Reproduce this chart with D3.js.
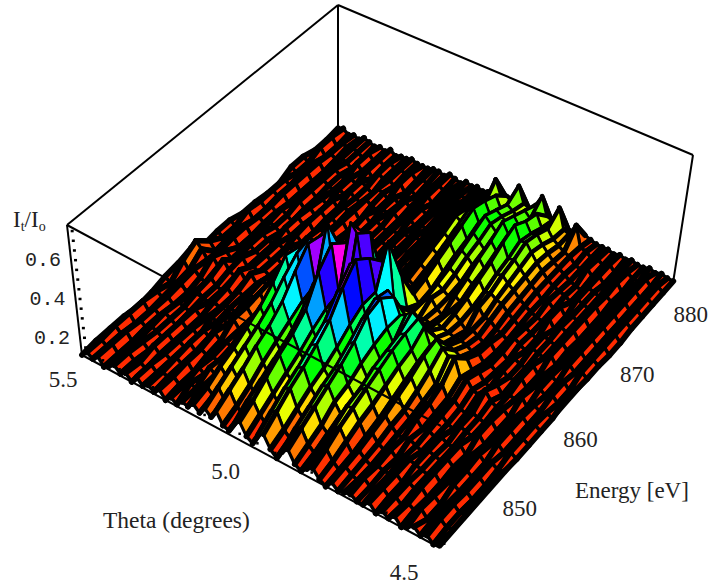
<!DOCTYPE html>
<html>
<head>
<meta charset="utf-8">
<script src="https://d3js.org/d3.v7.min.js"></script>
<style>
html, body { margin: 0; padding: 0; background: #fff; }
svg { display: block; }
text { font-family: "Liberation Serif", serif; font-size: 23px; fill: #222; }
.zlabel { font-family: "Liberation Mono", monospace; font-size: 20px; }
</style>
</head>
<body>
<div id="drawarea"></div>
<script>
const energyValues = [842, 844, 846, 848, 850, 852, 854, 856, 858, 860, 862, 864, 866, 868, 870, 872, 874, 876, 878, 880, 882];
const thetaTicks = [5.5, 5.0, 4.5];
const energyTicks = [850, 860, 870, 880];
const zTicks = [0.2, 0.4, 0.6];

// I_t/I_o in hundredths, one row per energy, theta going from 5.5 down to 4.5
const intensity = [
[11,14,12,15,11,13,15,12,14,11, 15,12,14,12,15,11,14,12,15,14, 17,14,18,15,20,14,13,18,21,15, 13,19,21,15,12,17,20,14,12,15, 17,13,11,15,12,13,14,12,12,15, 11,14,12,15,11,13,15,12,14,11, 13],
[12,14,12,15,11,14,15,12,13,11, 15,12,14,13,15,12,14,16,15,17, 19,16,22,17,24,17,15,23,25,19, 16,24,26,18,15,22,24,17,14,18, 20,15,12,16,13,12,15,12,13,15, 12,14,11,14,12,15,11,13,15,12, 13],
[12,15,12,15,11,13,14,11,15,12, 14,12,15,13,16,12,16,14,19,17, 23,19,26,21,28,21,18,27,30,23, 19,29,31,22,18,26,28,20,17,22, 24,18,13,17,14,12,14,13,13,15, 12,14,12,15,11,14,11,13,15,12, 13],
[12,15,11,14,12,14,13,11,15,12, 14,12,16,13,16,14,15,14,18,17, 26,22,30,24,33,26,21,31,35,27, 24,33,35,26,22,30,32,25,20,26, 27,21,15,19,15,13,15,12,14,15, 14,13,12,15,11,13,14,12,14,11, 13],
[11,15,11,14,12,15,13,11,15,12, 14,11,16,14,18,15,16,15,20,18, 30,25,34,27,37,30,25,35,39,31, 27,38,40,29,25,33,36,27,22,28, 30,23,17,21,17,14,14,15,13,12, 14,13,12,15,12,13,14,12,14,11, 14],
[12,14,12,14,11,14,13,12,15,12, 13,15,14,17,16,20,16,19,24,21, 34,28,39,31,43,34,28,41,45,36, 30,43,46,33,28,38,41,31,25,32, 33,26,20,24,18,15,17,13,14,12, 14,12,12,15,11,13,15,12,14,12, 13],
[14,12,13,15,11,12,15,13,12,14, 12,15,15,14,17,20,16,19,25,23, 40,31,46,35,52,38,32,50,58,40, 34,52,56,38,31,44,48,34,28,34, 36,29,23,27,21,17,18,14,15,12, 11,14,13,12,15,11,13,15,12,14, 12],
[15,18,14,16,13,12,16,13,12,15, 12,16,15,17,17,21,16,21,28,25, 48,33,52,36,60,40,33,56,66,42, 36,60,64,42,31,48,50,36,30,36, 38,31,26,31,25,19,21,15,16,13, 12,14,13,12,15,11,13,15,12,14, 12],
[17,22,19,15,18,14,19,15,13,18, 14,19,15,18,17,22,16,21,29,26, 46,36,54,38,58,66,38,52,60,72, 68,46,58,42,32,46,44,36,38,41, 39,36,28,33,30,27,28,19,20,16, 15,19,15,13,14,11,13,15,12,14, 12],
[13,16,12,14,15,12,13,16,12,14, 12,15,13,16,14,18,16,21,24,23, 30,26,36,28,40,46,26,38,46,60, 62,36,50,62,30,30,27,25,26,24, 26,24,22,23,22,20,21,16,17,13, 12,15,11,13,12,15,11,14,12,13, 12],
[14,12,13,15,11,12,15,13,12,14, 12,15,13,11,15,14,13,15,15,15, 18,17,21,19,23,24,20,24,26,30, 30,24,28,38,22,22,20,21,20,22, 21,20,19,19,18,16,17,13,14,12, 14,12,12,15,11,13,14,12,14,11, 14],
[14,12,13,15,11,12,15,13,12,14, 12,15,13,11,15,13,12,14,12,15, 12,14,15,12,15,13,15,14,16,15, 17,18,21,22,18,22,24,20,18,21, 22,19,16,18,16,14,16,12,14,11, 14,12,12,15,11,13,14,12,14,11, 13],
[12,15,11,14,12,14,13,11,15,12, 14,11,15,13,14,12,15,11,14,12, 13,15,12,14,13,15,14,15,16,17, 19,17,21,24,19,24,22,20,22,20, 24,20,22,18,18,15,14,12,15,13, 11,14,13,12,15,11,13,15,12,14, 12],
[12,14,11,14,12,15,13,11,15,12, 15,11,14,13,15,12,14,11,14,13, 13,14,12,14,15,15,14,17,17,18, 21,19,24,27,22,26,24,21,25,23, 27,22,23,21,20,17,15,13,14,12, 11,14,13,12,15,12,13,15,12,14, 12],
[11,14,12,15,11,13,15,12,14,11, 15,12,14,12,15,11,14,12,15,13, 12,14,13,15,14,15,15,17,18,20, 23,21,27,30,25,29,27,24,29,25, 30,25,26,23,21,18,16,14,13,12, 15,11,14,12,15,11,13,15,12,14, 11],
[11,14,12,15,11,14,15,12,13,11, 15,12,14,13,15,11,15,12,15,13, 12,14,13,15,14,16,15,18,20,22, 25,23,30,33,27,32,29,26,32,28, 34,27,28,25,22,19,17,14,15,12, 15,11,13,12,15,11,13,15,12,14, 11],
[14,12,13,15,11,12,15,13,12,14, 12,15,13,12,15,13,12,14,13,15, 12,14,15,13,15,14,16,19,22,24, 28,26,33,36,30,35,32,29,36,31, 37,30,31,27,23,20,17,15,14,13, 11,14,13,12,15,11,13,15,12,14, 12],
[14,12,13,15,11,13,15,13,12,14, 12,15,13,11,15,14,12,14,12,15, 13,13,15,13,15,15,15,18,21,22, 26,25,31,34,28,32,30,27,33,29, 33,28,29,25,22,19,17,15,13,12, 11,14,13,12,14,12,13,15,12,14, 12],
[12,15,11,14,12,14,13,11,15,12, 14,11,15,13,14,12,15,11,14,12, 13,15,12,14,14,15,16,17,19,21, 24,23,28,31,25,29,27,25,30,27, 31,25,26,22,20,18,17,14,13,15, 12,14,11,13,15,11,13,15,12,14, 12],
[12,15,11,14,13,14,13,11,15,12, 14,12,15,13,14,13,15,12,14,13, 13,15,13,14,14,15,14,17,18,20, 22,31,24,25,23,33,25,24,27,33, 24,23,31,21,20,26,16,15,13,14, 12,14,11,13,14,12,12,15,12,14, 12],
[13,14,12,13,12,14,13,12,13,12, 14,12,13,13,14,13,13,13,14,14, 13,15,14,13,15,14,15,14,15,15, 15,17,15,15,16,17,15,15,16,16, 15,14,15,14,13,15,14,13,13,13, 12,13,12,13,12,12,13,12,13,12, 12]
];

// corners of the box on screen: A (5.5, low E), B (4.5, low E), C (4.5, high E), D (5.5, high E)
const floorCorners = [[82, 355], [440, 548], [673, 283], [338, 132]];
const topCorners = [[67, 225], [441, 426], [693, 155], [338, 5]];

let svg = d3.select("div#drawarea").append("svg")
    .attr("width", 726)
    .attr("height", 587);

let uScale = d3.scaleLinear().domain([5.5, 4.5]).range([0, 1]);
let vScale = d3.scaleLinear().domain([842, 882]).range([0, 1]);
let zScale = d3.scaleLinear().domain([0.11, 0.78]).range([0, 1]);
let thetaOfColumn = d3.scaleLinear().domain([0, 60]).range([5.5, 4.5]);
let hueScale = d3.scaleLinear().domain([0.16, 0.66]).range([10, 345]).clamp(true);
//Lines along energy are the heavy ones, they get thinner as the surface stretches out
let heavyWidth = d3.scaleLinear().domain([0.15, 0.34]).range([5.8, 2.8]).clamp(true);
let crossWidth = d3.scaleLinear().domain([0.15, 0.34]).range([3.4, 2.2]).clamp(true);
let thetaLabelShift = d3.scaleLinear().domain([5.5, 4.5]).range([-19, -36]);

//Unit square to quad, so the perspective of the box is kept
function homography(q) {
    let [p0, p1, p2, p3] = q;
    let sx = p0[0] - p1[0] + p2[0] - p3[0], sy = p0[1] - p1[1] + p2[1] - p3[1];
    let dx1 = p1[0] - p2[0], dx2 = p3[0] - p2[0], dy1 = p1[1] - p2[1], dy2 = p3[1] - p2[1];
    let den = dx1 * dy2 - dx2 * dy1;
    let g = (sx * dy2 - dx2 * sy) / den, h = (dx1 * sy - sx * dy1) / den;
    let a = p1[0] - p0[0] + g * p1[0], b = p3[0] - p0[0] + h * p3[0];
    let d = p1[1] - p0[1] + g * p1[1], e = p3[1] - p0[1] + h * p3[1];
    return (u, v) => {
        let w = g * u + h * v + 1;
        return [(a * u + b * v + p0[0]) / w, (d * u + e * v + p0[1]) / w];
    };
}
let floorMap = homography(floorCorners);
let topMap = homography(topCorners);

function project(theta, energy, z) {
    let u = uScale(theta), v = vScale(energy), t = zScale(z);
    let f = floorMap(u, v), c = topMap(u, v);
    return [f[0] + (c[0] - f[0]) * t, f[1] + (c[1] - f[1]) * t];
}

let line = d3.line();
function edge(a, b) {
    svg.append("path")
        .attr("d", line([a, b]))
        .attr("fill", "none")
        .attr("stroke", "black")
        .attr("stroke-width", 2);
}

//Back of the box goes under the surface
edge(topCorners[0], topCorners[3]);
edge(topCorners[3], topCorners[2]);
edge(topCorners[3], floorCorners[3]);

//Cells from the far corner to the near corner, painter style
let cells = [];
for (let j = energyValues.length - 2; j >= 0; j--) {
    for (let k = 0; k < intensity[j].length - 1; k++) {
        let z = [intensity[j][k], intensity[j][k + 1], intensity[j + 1][k + 1], intensity[j + 1][k]].map(d => d / 100);
        let corners = [[k, j], [k + 1, j], [k + 1, j + 1], [k, j + 1]]
            .map((c, i) => project(thetaOfColumn(c[0]), energyValues[c[1]], z[i]));
        cells.push({ corners: corners, mean: d3.mean(z) });
    }
}

let cell = svg.append("g").selectAll("g")
    .data(cells)
    .join("g");

cell.append("path")
    .attr("d", d => line(d.corners) + "Z")
    .attr("fill", d => d3.hsl(hueScale(d.mean), 1, 0.5))
    .attr("stroke", "black")
    .attr("stroke-width", d => crossWidth(d.mean))
    .attr("stroke-linejoin", "round");

cell.append("path")
    .attr("d", d => line([d.corners[0], d.corners[3]]) + line([d.corners[1], d.corners[2]]))
    .attr("fill", "none")
    .attr("stroke", "black")
    .attr("stroke-width", d => heavyWidth(d.mean))
    .attr("stroke-linecap", "round");

//Front and side edges over the surface
edge(topCorners[0], floorCorners[0]);
edge(topCorners[2], floorCorners[2]);
edge(topCorners[0], topCorners[1]);
edge(floorCorners[0], floorCorners[1]);
edge(floorCorners[1], floorCorners[2]);

//Small tick dots up the left edge and along the front edge
d3.range(0.15, 0.76, 0.05).forEach(z => {
    let p = project(5.5, 842, z);
    svg.append("rect").attr("x", p[0] + 3).attr("y", p[1] - 1).attr("width", 3).attr("height", 2.5).attr("fill", "black");
});
d3.range(4.5, 5.5, 0.05).forEach(t => {
    let p = project(t, 842.6, 0.11);
    svg.append("rect").attr("x", p[0] - 1).attr("y", p[1] - 1).attr("width", 2.5).attr("height", 2.5).attr("fill", "black");
});

//Labels
zTicks.forEach(z => {
    let p = project(5.5, 842, z);
    svg.append("text").attr("class", "zlabel")
        .attr("x", p[0] - 10).attr("y", p[1] + 6)
        .attr("text-anchor", "end")
        .text(z.toFixed(1));
});
thetaTicks.forEach(t => {
    let p = project(t, 842, 0.11);
    svg.append("text")
        .attr("x", p[0] + thetaLabelShift(t)).attr("y", p[1] + 32)
        .attr("text-anchor", "middle")
        .text(t.toFixed(1));
});
energyTicks.forEach(e => {
    let p = project(4.5, e, 0.11);
    svg.append("text")
        .attr("x", p[0] + 28).attr("y", p[1] + 27)
        .attr("text-anchor", "middle")
        .text(e);
});

svg.append("text").attr("x", 103).attr("y", 528).style("font-size", "23.5px").text("Theta (degrees)");
svg.append("text").attr("x", 575).attr("y", 498).text("Energy [eV]");

let zTitle = svg.append("text").attr("x", 13).attr("y", 227);
zTitle.append("tspan").text("I");
zTitle.append("tspan").attr("dy", 4).style("font-size", "14px").text("t");
zTitle.append("tspan").attr("dy", -4).text("/I");
zTitle.append("tspan").attr("dy", 4).style("font-size", "14px").text("o");
</script>
</body>
</html>
